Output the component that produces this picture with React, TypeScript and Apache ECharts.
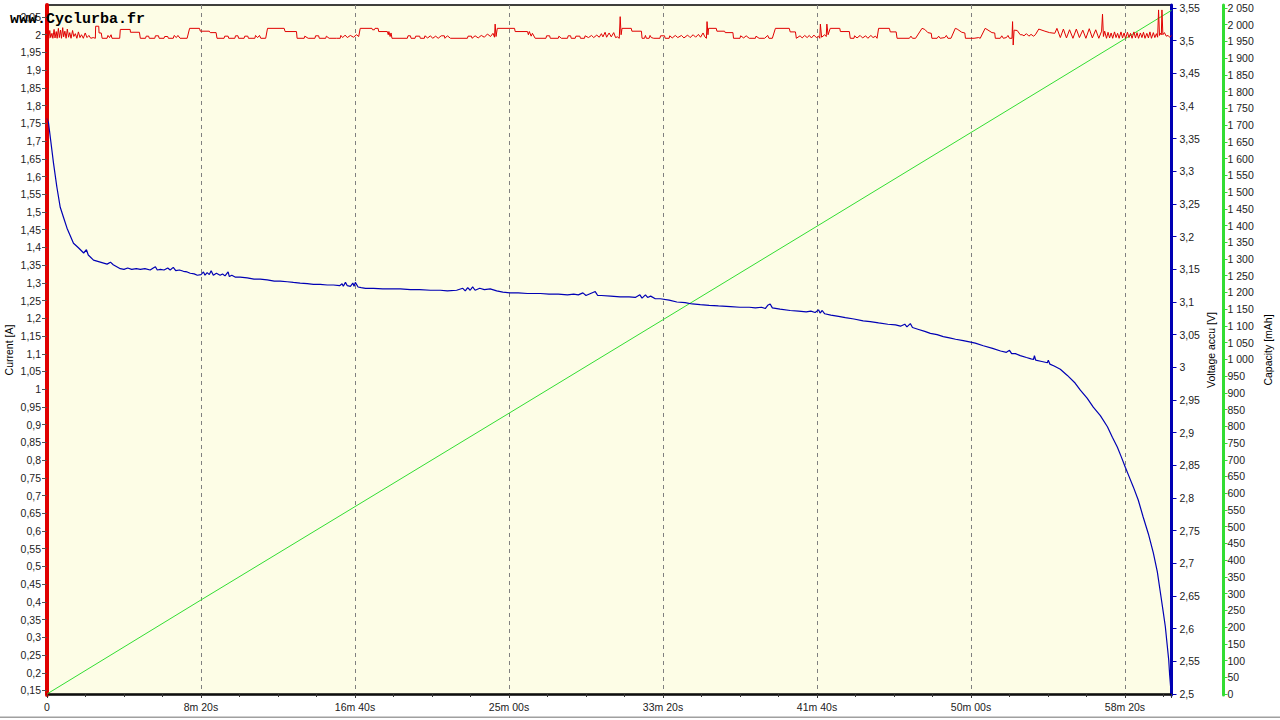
import React, { useEffect, useRef } from "react";
import * as echarts from "echarts";

// ---- Data (time in seconds) ----
const currentData: [number, number][] = [
  [0, 0], [0.5, 1.99],
  [3, 2.006], [6, 1.99], [9, 2.012], [12, 1.992], [16, 2.004], [19, 1.99], [23, 2.015], [26, 1.991], [30, 2.009], [33, 1.99],
  [37, 2.018], [40, 1.992], [44, 2.013], [47, 1.99], [51, 2.02], [54, 1.994], [58, 2.01], [62, 1.99], [66, 2.016], [70, 1.993],
  [74, 2.006], [78, 1.99], [83, 2.012], [87, 1.995], [92, 2.003], [97, 1.99], [102, 2.008], [107, 1.992], [112, 2.0], [118, 1.99],
  [124, 2.005], [130, 1.992], [136, 1.998], [142, 1.99], [150, 1.992],
  [157, 1.99], [158, 2.024], [168, 2.024], [169, 2.005], [176, 2.005], [179, 1.99], [195, 1.99], [198, 1.998], [203, 1.992],
  [208, 2.0], [211, 1.99], [236, 1.99], [238, 2.015], [270, 2.015], [271, 2.007], [300, 2.007], [303, 1.99],
  [320, 1.99], [322, 1.996], [330, 1.996], [332, 1.99], [350, 1.99], [352, 1.997], [362, 1.997], [364, 1.99], [380, 1.99],
  [382, 1.995], [392, 1.995], [394, 1.99], [410, 1.99], [413, 1.998], [420, 1.992], [425, 1.998], [432, 1.99], [455, 1.99],
  [463, 2.018], [495, 2.018], [498, 2.01], [527, 2.01], [530, 2.006], [549, 2.006], [552, 1.99],
  [575, 1.99], [577, 1.996], [588, 1.996], [590, 1.99], [610, 1.99], [612, 1.997], [620, 1.997], [622, 1.99], [640, 1.99],
  [642, 1.996], [652, 1.996], [654, 1.99], [675, 1.99], [677, 1.998], [684, 1.992], [690, 1.998], [694, 1.99], [710, 1.99],
  [716, 2.018], [770, 2.018], [773, 2.009], [810, 2.009], [812, 1.99],
  [835, 1.99], [837, 1.996], [848, 1.99], [870, 1.99], [872, 1.997], [882, 1.997], [884, 1.99], [905, 1.99], [907, 1.996],
  [916, 1.99], [940, 1.99], [952, 1.99], [954, 1.998], [960, 1.992], [968, 1.999], [975, 1.992], [985, 1.998], [995, 1.993],
  [1005, 2.0], [1012, 1.995],
  [1017, 2.018], [1055, 2.018], [1057, 2.014], [1063, 2.014], [1065, 2.018], [1075, 2.018], [1077, 2.009], [1105, 2.009],
  [1108, 2.0], [1110, 2.009], [1114, 1.995], [1117, 2.005], [1120, 1.99],
  [1170, 1.99], [1172, 1.997], [1180, 1.997], [1182, 1.99], [1195, 1.99], [1197, 1.996], [1210, 1.996], [1212, 1.99],
  [1225, 1.99], [1227, 1.997], [1236, 1.991], [1245, 1.997], [1252, 1.99], [1262, 1.996], [1270, 1.99], [1280, 1.997],
  [1290, 1.997], [1292, 1.99], [1300, 1.997], [1310, 1.99], [1365, 1.99], [1367, 1.996], [1378, 1.996], [1380, 1.99],
  [1390, 1.997], [1400, 1.991], [1410, 1.998], [1420, 1.993], [1430, 2.002], [1440, 1.995], [1448, 2.004], [1453, 1.993],
  [1455, 2.03], [1458, 1.995], [1462, 2.018], [1518, 2.018], [1520, 2.009], [1560, 2.009], [1563, 2.0], [1566, 2.009],
  [1572, 1.996], [1576, 2.004], [1585, 1.99],
  [1620, 1.99], [1622, 1.997], [1632, 1.997], [1634, 1.99], [1660, 1.99], [1662, 1.996], [1670, 1.99], [1690, 1.99],
  [1692, 1.997], [1700, 1.997], [1702, 1.99], [1715, 1.99], [1717, 1.996], [1730, 1.996], [1732, 1.99], [1745, 1.99],
  [1747, 1.997], [1758, 1.992], [1768, 1.998], [1775, 1.992], [1785, 1.999], [1793, 1.993], [1800, 2.003], [1805, 1.994],
  [1812, 2.007], [1817, 1.993], [1825, 2.005], [1832, 1.994], [1840, 2.006], [1846, 1.992], [1852, 1.994], [1858, 1.99],
  [1861, 2.051], [1864, 2.0], [1867, 2.018], [1897, 2.018], [1899, 2.01], [1930, 2.01], [1932, 1.99],
  [1940, 1.99], [1943, 1.998], [1946, 1.99], [1955, 1.99], [1958, 1.998], [1962, 1.992], [1970, 1.99], [1990, 1.99],
  [1992, 1.997], [2005, 1.997], [2007, 1.99], [2020, 1.99], [2022, 1.997], [2030, 1.991], [2040, 1.998], [2048, 1.992],
  [2060, 1.998], [2068, 1.991], [2080, 1.999], [2088, 1.992], [2098, 2.0], [2106, 1.993], [2115, 2.001], [2122, 1.993],
  [2130, 2.005], [2136, 1.994], [2141, 1.99],
  [2143, 2.037], [2146, 2.0], [2148, 2.018], [2173, 2.018], [2175, 2.01], [2200, 2.01], [2202, 2.006], [2227, 2.006], [2229, 1.99],
  [2250, 1.99], [2252, 1.997], [2262, 1.991], [2270, 1.997], [2280, 1.99], [2300, 1.99], [2302, 1.996], [2312, 1.99],
  [2330, 1.99], [2340, 1.998], [2344, 1.99],
  [2355, 1.99], [2365, 2.018], [2410, 2.018], [2413, 2.008], [2430, 2.008], [2433, 1.99],
  [2445, 1.997], [2452, 1.991], [2460, 1.998], [2468, 1.992], [2475, 1.998], [2482, 1.991], [2490, 1.999], [2498, 1.992],
  [2505, 1.996], [2509, 1.99],
  [2511, 2.03], [2515, 1.993], [2525, 2.0], [2530, 1.995], [2532, 2.03], [2536, 2.0], [2543, 2.018], [2574, 2.018],
  [2576, 2.009], [2605, 2.009], [2608, 1.99],
  [2620, 1.99], [2622, 1.997], [2630, 1.991], [2640, 1.998], [2648, 1.991], [2658, 1.997], [2665, 1.99], [2675, 1.998],
  [2682, 1.992], [2690, 1.996], [2695, 1.99],
  [2700, 2.018], [2735, 2.018], [2738, 2.008], [2757, 2.008], [2760, 1.99],
  [2800, 1.99], [2805, 1.996], [2810, 1.99], [2820, 1.99],
  [2841, 2.018], [2850, 2.015], [2860, 2.006], [2871, 2.004], [2873, 1.99],
  [2890, 1.99], [2895, 1.996], [2900, 1.99], [2915, 1.992], [2920, 1.998], [2925, 1.99], [2935, 1.99],
  [2949, 2.018], [2955, 2.016], [2970, 2.007], [2980, 2.005], [2982, 1.99],
  [3000, 1.99], [3010, 1.99], [3025, 1.992], [3030, 1.99],
  [3046, 2.018], [3052, 2.015], [3068, 2.006], [3077, 2.005], [3079, 1.99],
  [3095, 1.99], [3100, 1.997], [3105, 1.99], [3115, 1.992], [3120, 1.998], [3125, 1.99], [3133, 1.99],
  [3135, 2.037], [3137, 1.971], [3140, 2.013], [3150, 2.012], [3160, 2.0], [3166, 2.0], [3172, 1.997], [3180, 2.003],
  [3188, 1.996], [3195, 2.001], [3203, 1.996], [3209, 2.0],
  [3220, 2.016], [3240, 2.01], [3255, 2.006], [3272, 2.004], [3279, 2.018],
  [3290, 1.992], [3300, 2.016], [3310, 1.991], [3320, 2.014], [3331, 1.99], [3342, 2.016], [3352, 1.992], [3363, 2.013],
  [3373, 1.99], [3384, 2.017], [3394, 1.991], [3405, 2.014], [3415, 1.99], [3424, 2.01],
  [3427, 2.058], [3430, 1.995], [3434, 2.01],
  [3440, 1.99], [3445, 2.007], [3450, 1.991], [3455, 2.005], [3460, 1.99], [3466, 2.008], [3471, 1.992], [3476, 2.004],
  [3481, 1.99], [3487, 2.008], [3492, 1.991], [3497, 2.005], [3502, 1.99], [3508, 2.007], [3513, 1.992], [3518, 2.004],
  [3523, 1.99], [3529, 2.008], [3534, 1.991], [3539, 2.006], [3544, 1.99], [3550, 2.005], [3555, 1.992], [3560, 2.007],
  [3565, 1.99], [3571, 2.004], [3576, 1.991], [3581, 2.008], [3586, 1.99], [3592, 2.006], [3597, 1.992], [3602, 2.003],
  [3606, 1.993],
  [3609, 2.07], [3612, 1.998], [3615, 2.004], [3618, 2.0], [3620, 2.07], [3623, 2.0], [3628, 2.006], [3634, 1.996],
  [3640, 1.998], [3645, 1.993], [3651, 1.998],
];

const voltageData: [number, number][] = [
  [0, 3.381], [5, 3.374], [11, 3.351], [21, 3.313], [32, 3.276], [43, 3.245], [54, 3.229], [65, 3.213], [86, 3.19],
  [102, 3.183], [119, 3.175], [128, 3.18], [134, 3.172], [151, 3.164], [173, 3.161], [195, 3.158], [206, 3.161],
  [215, 3.157], [238, 3.151], [250, 3.150], [262, 3.152], [275, 3.150], [290, 3.151], [303, 3.150], [318, 3.151],
  [335, 3.149], [345, 3.152], [352, 3.154], [358, 3.149], [368, 3.150], [380, 3.149], [392, 3.152], [400, 3.149],
  [410, 3.153], [418, 3.148], [430, 3.149], [443, 3.147], [455, 3.146], [465, 3.144], [478, 3.143], [488, 3.141],
  [500, 3.142], [508, 3.146], [513, 3.141], [520, 3.145], [527, 3.142], [533, 3.148], [540, 3.141], [550, 3.144],
  [562, 3.141], [570, 3.143], [578, 3.140], [588, 3.146], [592, 3.139], [600, 3.141], [612, 3.138], [627, 3.138],
  [650, 3.137], [672, 3.135], [692, 3.135], [715, 3.134], [738, 3.132], [757, 3.132], [780, 3.131], [800, 3.130],
  [822, 3.129], [845, 3.128], [865, 3.127], [887, 3.127], [910, 3.126], [930, 3.126], [950, 3.125], [958, 3.128],
  [962, 3.124], [969, 3.130], [975, 3.125], [985, 3.124], [993, 3.129], [997, 3.124], [1001, 3.130], [1010, 3.123],
  [1020, 3.122], [1034, 3.121], [1060, 3.121], [1090, 3.120], [1120, 3.120], [1147, 3.120], [1180, 3.119],
  [1210, 3.119], [1245, 3.118], [1277, 3.118], [1300, 3.117], [1330, 3.118], [1350, 3.121], [1358, 3.117],
  [1366, 3.122], [1374, 3.118], [1382, 3.123], [1390, 3.118], [1405, 3.121], [1420, 3.119], [1439, 3.120],
  [1460, 3.117], [1480, 3.115], [1504, 3.114], [1530, 3.114], [1560, 3.113], [1580, 3.113], [1602, 3.113],
  [1630, 3.112], [1660, 3.112], [1690, 3.111], [1710, 3.112], [1725, 3.111], [1740, 3.114], [1750, 3.110],
  [1765, 3.113], [1780, 3.116], [1788, 3.110], [1800, 3.110], [1830, 3.109], [1861, 3.108], [1890, 3.108],
  [1910, 3.107], [1925, 3.111], [1932, 3.106], [1943, 3.111], [1950, 3.107], [1960, 3.109], [1975, 3.105],
  [1991, 3.105], [2020, 3.103], [2045, 3.100], [2072, 3.099], [2095, 3.097], [2121, 3.096], [2150, 3.095],
  [2180, 3.094], [2219, 3.093], [2250, 3.092], [2280, 3.092], [2300, 3.091], [2320, 3.092], [2332, 3.090],
  [2340, 3.095], [2348, 3.097], [2355, 3.091], [2380, 3.089], [2413, 3.087], [2440, 3.086], [2465, 3.085],
  [2480, 3.086], [2494, 3.084], [2505, 3.088], [2510, 3.083], [2517, 3.087], [2525, 3.082], [2545, 3.080],
  [2570, 3.078], [2592, 3.076], [2620, 3.074], [2650, 3.071], [2673, 3.070], [2700, 3.068], [2730, 3.066],
  [2755, 3.065], [2771, 3.063], [2785, 3.066], [2792, 3.062], [2803, 3.067], [2810, 3.061], [2830, 3.058],
  [2850, 3.055], [2868, 3.052], [2890, 3.050], [2910, 3.047], [2930, 3.045], [2950, 3.043], [2975, 3.041],
  [2995, 3.039], [3014, 3.037], [3040, 3.033], [3070, 3.029], [3096, 3.025], [3115, 3.023], [3125, 3.026],
  [3132, 3.021], [3144, 3.021], [3160, 3.018], [3180, 3.015], [3195, 3.013], [3203, 3.012], [3206, 3.018],
  [3210, 3.011], [3230, 3.009], [3248, 3.007], [3251, 3.011], [3256, 3.005], [3270, 3.002], [3290, 2.997],
  [3312, 2.988], [3338, 2.976], [3355, 2.965], [3377, 2.953], [3397, 2.939], [3420, 2.926], [3443, 2.909], [3459, 2.893],
  [3475, 2.878], [3488, 2.863], [3501, 2.847], [3514, 2.832], [3527, 2.817], [3543, 2.797], [3559, 2.771], [3576, 2.745],
  [3592, 2.716], [3605, 2.687], [3615, 2.655], [3624, 2.626], [3631, 2.603], [3637, 2.575], [3642, 2.552], [3645, 2.529],
  [3649, 2.506], [3650, 2.5],
];

const capacityData: [number, number][] = [
  [0, 0], [500, 281], [1500, 839], [2500, 1398], [3500, 1958], [3651, 2043],
];

const currentTicks = [0.15, 0.2, 0.25, 0.3, 0.35, 0.4, 0.45, 0.5, 0.55, 0.6, 0.65, 0.7, 0.75, 0.8, 0.85, 0.9, 0.95, 1,
  1.05, 1.1, 1.15, 1.2, 1.25, 1.3, 1.35, 1.4, 1.45, 1.5, 1.55, 1.6, 1.65, 1.7, 1.75, 1.8, 1.85, 1.9, 1.95, 2, 2.05];
const voltageTicks = [2.5, 2.55, 2.6, 2.65, 2.7, 2.75, 2.8, 2.85, 2.9, 2.95, 3, 3.05, 3.1, 3.15, 3.2, 3.25, 3.3, 3.35,
  3.4, 3.45, 3.5, 3.55];
const capacityTicks = [0, 50, 100, 150, 200, 250, 300, 350, 400, 450, 500, 550, 600, 650, 700, 750, 800, 850, 900, 950,
  1000, 1050, 1100, 1150, 1200, 1250, 1300, 1350, 1400, 1450, 1500, 1550, 1600, 1650, 1700, 1750, 1800, 1850, 1900,
  1950, 2000, 2050];

const FONT = "Liberation Sans";
const LABEL_COLOR = "#222";

const fmtComma = (v: number) => String(Number(v.toFixed(2))).replace(".", ",");
const fmtCap = (v: number) => {
  const r = Math.round(v);
  if (r >= 1000) return `${Math.floor(r / 1000)} ${String(r % 1000).padStart(3, "0")}`;
  return String(r);
};
const fmtTime = (v: number) => {
  if (v === 0) return "0";
  const m = Math.floor(v / 60);
  const s = Math.round(v - m * 60);
  return `${m}m ${String(s).padStart(2, "0")}s`;
};

export default function App() {
  const ref = useRef<HTMLDivElement>(null);
  useEffect(() => {
    if (!ref.current) return;
    const chart = echarts.init(ref.current, null, { renderer: "svg" });
    const labelStyle = { fontFamily: FONT, fontSize: 10.5, color: LABEL_COLOR };
    const nameStyle = { fontFamily: FONT, fontSize: 10.5, color: "#000" };
    chart.setOption({
      animation: false,
      backgroundColor: "#ffffff",
      title: {
        text: "www.Cyclurba.fr",
        left: 10,
        top: 12,
        padding: 0,
        textStyle: { fontFamily: "Liberation Mono", fontSize: 15, fontWeight: "bold", color: "#000" },
      },
      grid: {
        left: 47,
        right: 108.5,
        top: 5,
        bottom: 25,
        outerBoundsMode: "none",
        containLabel: false,
        show: true,
        backgroundColor: "#fdfde6",
        borderColor: "#000",
        borderWidth: 1.5,
      },
      xAxis: {
        type: "value",
        min: 0,
        max: 3651,
        interval: 500,
        axisLine: { show: true, lineStyle: { color: "#000", width: 1.5 } },
        axisTick: { show: true, length: 4, lineStyle: { color: "#333" } },
        minorTick: { show: true, splitNumber: 4, length: 3, lineStyle: { color: "#333" } },
        splitLine: { show: true, lineStyle: { color: "#808080", type: [4, 4], width: 1 } },
        axisLabel: { ...labelStyle, margin: 6, formatter: fmtTime, showMaxLabel: false },
      },
      yAxis: [
        {
          type: "value",
          position: "left",
          min: 0.1373,
          max: 2.0839,
          name: "Current [A]",
          nameLocation: "middle",
          nameRotate: 90,
          nameGap: 33,
          nameMoveOverlap: false,
          nameTextStyle: nameStyle,
          axisLine: { show: true, lineStyle: { color: "#e00000", width: 4 } },
          axisTick: { show: true, length: 5, customValues: currentTicks, lineStyle: { color: "#555" } },
          axisLabel: { ...labelStyle, margin: 6, customValues: currentTicks, formatter: fmtComma },
          splitLine: { show: false },
        },
        {
          type: "value",
          position: "right",
          min: 2.4985,
          max: 3.5546,
          name: "Voltage accu [V]",
          nameLocation: "middle",
          nameRotate: 90,
          nameGap: 34,
          nameMoveOverlap: false,
          nameTextStyle: nameStyle,
          axisLine: { show: true, lineStyle: { color: "#0000b4", width: 3 } },
          axisTick: { show: true, length: 5, customValues: voltageTicks, lineStyle: { color: "#0000b4" } },
          axisLabel: { ...labelStyle, margin: 8, customValues: voltageTicks, formatter: fmtComma },
          splitLine: { show: false },
        },
        {
          type: "value",
          position: "right",
          offset: 52,
          min: -3,
          max: 2059,
          name: "Capacity [mAh]",
          nameLocation: "middle",
          nameRotate: 90,
          nameGap: 39,
          nameMoveOverlap: false,
          nameTextStyle: nameStyle,
          axisLine: { show: true, lineStyle: { color: "#33dd33", width: 3 } },
          axisTick: { show: true, length: 4, customValues: capacityTicks, lineStyle: { color: "#33dd33" } },
          axisLabel: { ...labelStyle, margin: 4, customValues: capacityTicks, formatter: fmtCap },
          splitLine: { show: false },
        },
      ],
      graphic: [
        {
          type: "rect",
          shape: { x: 0, y: 716.5, width: 1280, height: 1.5 },
          style: { fill: "#a0a0a0" },
          silent: true,
        },
      ],
      series: [
        {
          name: "Capacity",
          type: "line",
          yAxisIndex: 2,
          data: capacityData,
          showSymbol: false,
          lineStyle: { color: "#33dd33", width: 1 },
          z: 2,
        },
        {
          name: "Voltage",
          type: "line",
          yAxisIndex: 1,
          data: voltageData,
          showSymbol: false,
          lineStyle: { color: "#0000b4", width: 1.2 },
          z: 3,
        },
        {
          name: "Current",
          type: "line",
          yAxisIndex: 0,
          data: currentData,
          showSymbol: false,
          lineStyle: { color: "#e00000", width: 1 },
          z: 4,
        },
      ],
    });
    return () => chart.dispose();
  }, []);
  return (
    <div
      ref={ref}
      style={{ position: "fixed", left: 0, top: 0, width: 1280, height: 720, background: "#fff" }}
    />
  );
}
